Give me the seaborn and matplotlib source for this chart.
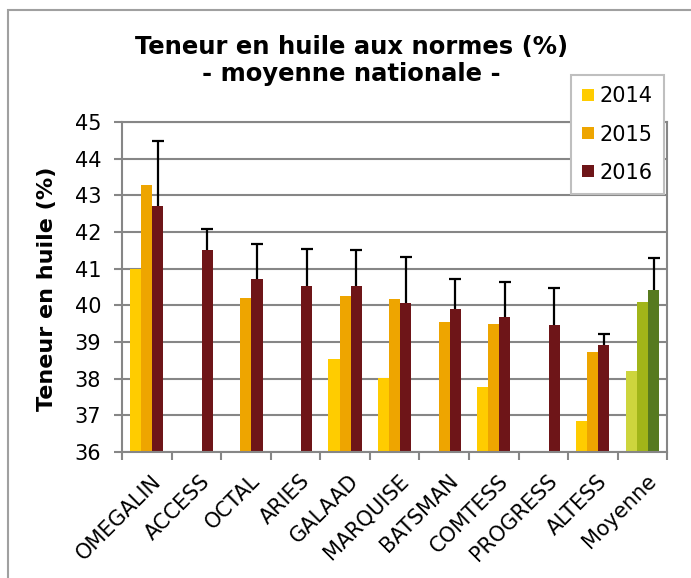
import matplotlib
matplotlib.use("Agg")
import matplotlib.pyplot as plt
import matplotlib.transforms as mtransforms
import pandas as pd
import numpy as np
import seaborn as sns
from matplotlib.patches import Rectangle, Patch

varieties = ['OMEGALIN', 'ACCESS', 'OCTAL', 'ARIES', 'GALAAD', 'MARQUISE',
             'BATSMAN', 'COMTESS', 'PROGRESS', 'ALTESS', 'Moyenne']
years = ['2014', '2015', '2016']
v2014 = [41.0, np.nan, np.nan, np.nan, 38.54, 38.02, np.nan, 37.76, np.nan, 36.85, 38.22]
v2015 = [43.27, np.nan, 40.19, np.nan, 40.25, 40.18, 39.55, 39.48, np.nan, 38.72, 40.09]
v2016 = [42.70, 41.50, 40.73, 40.54, 40.52, 40.07, 39.90, 39.67, 39.46, 38.91, 40.43]
err2016 = [1.77, 0.59, 0.95, 0.99, 1.00, 1.24, 0.82, 0.97, 1.02, 0.31, 0.86]

colors = ['#FFCC00', '#EEA500', '#6E1518']
moy_colors = ['#CDD53D', '#A1B519', '#577A1F']

df = pd.DataFrame({
    'variete': varieties * 3,
    'annee': [y for y in years for _ in varieties],
    'teneur': v2014 + v2015 + v2016,
})

sns.set_theme(style="white")
plt.rcParams['font.family'] = ['DejaVu Sans']
plt.rcParams['text.color'] = 'black'
plt.rcParams['axes.labelcolor'] = 'black'

fig = plt.figure(figsize=(6.91, 5.78), dpi=100)
ax = fig.add_axes([0.1766, 0.218, 0.789, 0.571])

sns.barplot(data=df, x='variete', y='teneur', hue='annee', order=varieties,
            hue_order=years, palette=colors, saturation=1, width=0.67,
            errorbar=None, linewidth=0, ax=ax, legend=False)

# recolor the "Moyenne" group in greens
for j, cont in enumerate(ax.containers):
    for p in cont.patches:
        if p.get_x() + p.get_width() / 2 > len(varieties) - 1.5:
            p.set_facecolor(moy_colors[j])

# one-sided error bars on 2016 (upper cap only)
for p, e in zip(ax.containers[2].patches, err2016):
    xc = p.get_x() + p.get_width() / 2
    _, caps, _ = ax.errorbar(xc, p.get_height(), yerr=[[0], [e]], fmt='none',
                             ecolor='black', elinewidth=1.6, capsize=4.2,
                             capthick=1.6, zorder=5)
    caps[0].set_visible(False)

ax.set_ylim(36, 45)
ax.set_xlim(-0.5, len(varieties) - 0.5)
ax.set_yticks(range(36, 46))
ax.yaxis.grid(True, color='#868686', linewidth=1.5)
ax.set_axisbelow(True)
for s in ax.spines.values():
    s.set_color('#868686')
    s.set_linewidth(1.5)

ax.set_xticks(np.arange(len(varieties)))
ax.set_xticklabels(varieties, rotation=45, ha='right', va='center',
                   rotation_mode='anchor', fontsize=15)
ax.set_xticks(np.arange(-0.5, len(varieties)), minor=True)
ax.tick_params(axis='x', which='major', length=0, pad=0, labelcolor='black')
ax.tick_params(axis='x', which='minor', length=6, width=1.5, color='#868686',
               direction='out', bottom=True)
ax.tick_params(axis='y', length=6, width=1.5, color='#868686', direction='out',
               left=True, labelsize=15, pad=9, labelcolor='black')
shift = mtransforms.ScaledTranslation(0.11, -0.26, fig.dpi_scale_trans)
for lab in ax.get_xticklabels():
    lab.set_transform(lab.get_transform() + shift)
ax.set_xlabel('')
ax.set_ylabel('Teneur en huile (%)', fontsize=16, fontweight='bold')
ax.yaxis.set_label_coords(57 / 691, 0.5, transform=fig.transFigure)

fig.text(0.509, 0.895, 'Teneur en huile aux normes (%)\n- moyenne nationale -',
         ha='center', va='center', fontsize=17.5, fontweight='bold',
         linespacing=1.18, color='black')

handles = [Patch(facecolor=c, edgecolor='none') for c in colors]
leg = ax.legend(handles, years, loc='upper left',
                bbox_to_anchor=(571 / 691, 1 - 75 / 578),
                bbox_transform=fig.transFigure, borderaxespad=0,
                fontsize=15, frameon=True, fancybox=False,
                edgecolor='#BFBFBF', framealpha=1, handlelength=0.53,
                handleheight=0.53, handletextpad=0.3, labelspacing=0.87,
                borderpad=0.55)
leg.get_frame().set_linewidth(1.5)
leg.set_zorder(10)

fig.patches.append(Rectangle((8 / 691, -0.1), 1.2, 1.1 - 10 / 578,
                             transform=fig.transFigure, fill=False,
                             edgecolor='#A0A0A0', linewidth=1.5))

fig.savefig('out.png', dpi=100)
